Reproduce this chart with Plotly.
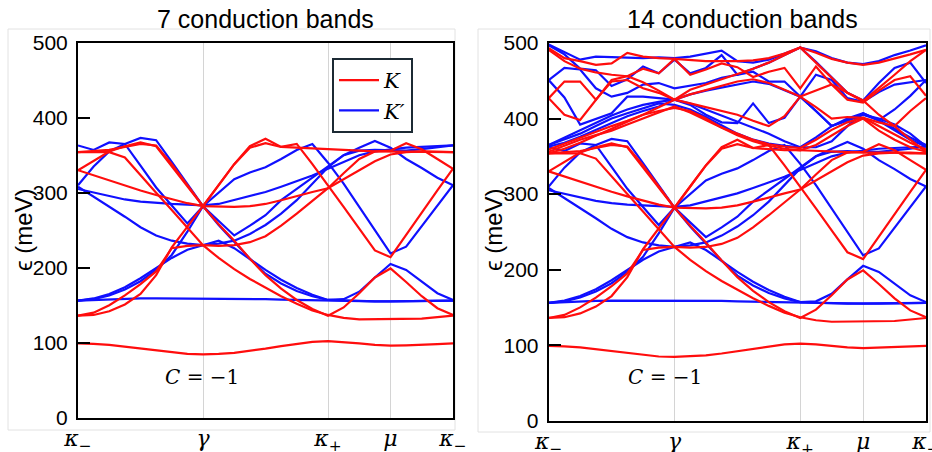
import plotly.graph_objects as go

W, H = 932, 452

# path coordinate (kappa- .. gamma .. kappa+ .. mu .. kappa-), 0.25 steps
K_PATH = [0, 0.25, 0.5, 0.75, 1, 1.25, 1.5, 1.75, 2, 2.25, 2.5, 2.75, 3,
          3.25, 3.5, 3.75, 4, 4.25, 4.5, 4.75, 5, 5.25, 5.5, 5.75, 6]
TICK_POS = [0, 2, 4, 5, 6]
TICK_TEXT = ['<i>κ</i><sub>−</sub>', '<i>γ</i>', '<i>κ</i><sub>+</sub>', '<i>μ</i>', '<i>κ</i><sub>−</sub>']

# ---- K valley (red), 7 lowest conduction bands (meV)
red_1 = [99, 98.5, 97, 94.5, 92, 89, 86.5, 85, 84.5, 85, 86.5, 89, 92, 95.5, 98.5, 101, 102, 101, 99, 97, 96, 96.5, 97, 98, 99]
red_2 = [136, 140, 150, 163, 178, 195, 226, 229, 230, 229, 230, 234, 242, 256, 272, 289, 306, 326, 345, 355, 356, 366, 358, 345, 332]
red_3 = [136, 137, 142, 151, 165, 190, 227, 254, 282, 310, 338, 362, 372, 361, 365, 338, 310, 281, 252, 223, 214, 244, 273, 303, 332]
red_4 = [330, 342, 355, 362, 367, 362, 335, 308, 282, 258, 236, 212, 190, 172, 157, 145, 136, 147, 166, 187, 199, 181, 162, 146, 137]
red_5 = [354, 354, 354, 347, 323, 300, 277, 253, 230, 213, 198, 185, 173, 162, 152, 143, 137, 133, 131, 131, 131, 131, 132, 134, 136]
red_6 = [330, 323, 316, 310, 303, 297, 291, 286, 282, 281, 281, 282, 285, 290, 296, 301, 306, 318, 330, 342, 351, 354, 355, 355, 354]
red_7 = [354, 355, 357, 361, 365, 363, 338, 310, 282, 310, 338, 360, 366, 361, 360, 358, 358, 357, 356, 355, 355, 355, 355, 354, 354]

# ---- K' valley (blue), 7 lowest conduction bands (meV)
blue_1 = [156, 157, 158, 158.5, 159, 159, 159, 159, 159, 159, 159, 158.5, 158, 157.5, 157, 156.5, 156, 155.5, 155, 155, 155, 155, 155, 155.5, 156]
blue_2 = [156, 159, 165, 174, 186, 199, 213, 224, 230, 236, 226, 211, 197, 184, 173, 164, 157, 158, 168, 187, 205, 197, 181, 166, 157]
blue_3 = [156, 158, 163, 171, 182, 197, 217, 248, 282, 300, 318, 327, 334, 345, 357, 365, 340, 312, 281, 250, 219, 228, 255, 282, 310]
blue_4 = [363, 357, 367, 365, 336, 307, 283, 259, 282, 262, 243, 256, 270, 290, 305, 320, 334, 350, 360, 369, 360, 345, 333, 320, 310]
blue_5 = [310, 335, 355, 365, 373, 370, 341, 311, 282, 257, 234, 212, 192, 179, 169, 162, 157, 156, 155.5, 155, 155, 155, 155, 155.5, 156]
blue_6 = [305, 300, 295, 291, 288, 286, 285, 284, 283, 285, 290, 295, 301, 308, 315, 323, 332, 341, 350, 355, 358, 360, 361, 362, 363]
blue_7 = [308, 295, 282, 268, 254, 243, 236, 232, 230, 232, 236, 245, 257, 272, 290, 312, 334, 350, 356, 357, 356, 356, 358, 360, 363]

# ---- extra bands 8..14 (right panel only)
red_8 = [493, 480, 476, 471, 473, 487, 482, 480, 479, 477, 476, 476, 476, 477, 480, 486, 494, 487, 479, 474, 471, 474, 479, 485, 491]
red_9 = [491, 476, 466, 461, 458, 456, 466, 460, 479, 458, 465, 473, 468, 455, 462, 467, 440, 469, 445, 425, 421, 437, 451, 456, 430]
red_10 = [427, 449, 449, 425, 449, 451, 440, 434, 425, 438, 445, 452, 458, 466, 474, 484, 494, 474, 454, 434, 423, 440, 458, 476, 491]
red_11 = [427, 405, 398, 425, 451, 456, 448, 437, 425, 420, 415, 410, 405, 397, 390, 403, 429, 415, 400, 402, 401, 395, 390, 410, 427]
red_12 = [359, 367, 374, 382, 390, 397, 405, 410, 414, 410, 400, 388, 380, 372, 366, 363, 361, 372, 385, 395, 401, 390, 378, 368, 359]
red_13 = [354, 360, 368, 377, 386, 395, 405, 415, 425, 432, 438, 444, 449, 452, 447, 438, 429, 437, 445, 434, 424, 405, 390, 372, 356]
red_14 = [356, 364, 372, 378, 384, 392, 400, 408, 416, 408, 398, 388, 378, 370, 364, 360, 358, 365, 378, 390, 400, 384, 372, 362, 356]

blue_8 = [498, 488, 478, 482, 481, 480, 480, 481, 480, 482, 486, 490, 476, 474, 478, 486, 494, 489, 480, 474, 472, 476, 484, 490, 497]
blue_9 = [497, 485, 466, 464, 443, 452, 469, 460, 478, 460, 467, 484, 458, 462, 449, 449, 429, 458, 451, 427, 422, 435, 445, 448, 451]
blue_10 = [451, 467, 465, 440, 429, 434, 445, 447, 440, 444, 447, 454, 458, 466, 474, 484, 494, 475, 454, 434, 424, 447, 467, 474, 447]
blue_11 = [451, 428, 392, 400, 407, 429, 429, 427, 425, 418, 405, 395, 394, 420, 394, 401, 429, 410, 390, 398, 405, 398, 412, 430, 451]
blue_12 = [365, 372, 380, 390, 400, 407, 414, 420, 418, 412, 402, 391, 380, 372, 367, 364, 362, 375, 390, 400, 407, 397, 385, 372, 363]
blue_13 = [363, 368, 376, 385, 395, 403, 410, 416, 425, 432, 437, 441, 445, 449, 446, 438, 429, 410, 390, 397, 405, 400, 392, 380, 363]
blue_14 = [365, 375, 385, 395, 404, 412, 418, 422, 425, 420, 412, 404, 396, 389, 380, 370, 362, 362, 370, 390, 407, 398, 386, 375, 365]

RED_LOW = [red_1, red_2, red_3, red_4, red_5, red_6, red_7]
BLUE_LOW = [blue_1, blue_2, blue_3, blue_4, blue_5, blue_6, blue_7]
RED_HIGH = [red_8, red_9, red_10, red_11, red_12, red_13, red_14]
BLUE_HIGH = [blue_8, blue_9, blue_10, blue_11, blue_12, blue_13, blue_14]

RED = '#ff0d0d'
BLUE = '#1010ff'
LW = 2.2

fig = go.Figure()

def add_bands(bands, color, xa, ya, name=None):
    for i, b in enumerate(bands):
        show = name is not None and i == 0
        fig.add_trace(go.Scatter(
            x=K_PATH, y=b, mode='lines', xaxis=xa, yaxis=ya,
            line=dict(color=color, width=LW),
            name=name if show else '', showlegend=show,
            legendrank=1 if color == RED else 2,
            hoverinfo='skip'))

# left panel: 7 bands; right panel: 14 bands (blue drawn first, red on top)
add_bands(BLUE_LOW, BLUE, 'x', 'y', name='<i>K′</i>')
add_bands(RED_LOW, RED, 'x', 'y', name='<i>K</i>')
add_bands(BLUE_LOW + BLUE_HIGH, BLUE, 'x2', 'y2')
add_bands(RED_LOW + RED_HIGH, RED, 'x2', 'y2')

SANS = 'Liberation Sans, Arial, sans-serif'
SERIF = 'DejaVu Serif, serif'

def xax(domain, anchor):
    return dict(domain=domain, range=[0, 6], tickvals=TICK_POS, ticktext=TICK_TEXT,
                ticks='', showgrid=True, gridcolor='#d4d4d4', gridwidth=1,
                showline=True, mirror=True, linecolor='black', linewidth=2,
                zeroline=False, automargin=False, anchor=anchor,
                ticklabeloverflow='allow',
                tickfont=dict(family=SERIF, size=22, color='black'))

def yax(domain, anchor):
    return dict(domain=domain, range=[0, 500], tickvals=[0, 100, 200, 300, 400, 500],
                ticks='inside', ticklen=12, tickwidth=2, tickcolor='black',
                showgrid=False, showline=True, mirror=True, linecolor='black', linewidth=2,
                zeroline=False, anchor=anchor, automargin=False, ticklabelstandoff=4,
                tickfont=dict(family=SANS, size=21, color='black'))

fig.update_layout(
    template='none',
    width=W, height=H, margin=dict(l=0, r=0, t=0, b=0, pad=0, autoexpand=False),
    paper_bgcolor='white', plot_bgcolor='white',
    xaxis=xax([78 / W, 453 / W], 'y'),
    yaxis=yax([1 - 417.7 / H, 1 - 42.7 / H], 'x'),
    xaxis2=xax([548.7 / W, 926 / W], 'y2'),
    yaxis2=yax([1 - 420.7 / H, 1 - 43 / H], 'x2'),
    legend=dict(x=332 / W, y=1 - 58 / H, xanchor='left', yanchor='top',
                bgcolor='white', bordercolor='#1c2a34', borderwidth=2,
                font=dict(family=SERIF, size=21, color='black'),
                itemwidth=40, tracegroupgap=0),
    showlegend=True,
)

shapes = [
    dict(type='rect', xref='paper', yref='paper', x0=8 / W, x1=455 / W,
         y0=1 - 430 / H, y1=1 - 29 / H, line=dict(color='#e2e2e2', width=1), layer='below'),
    dict(type='rect', xref='paper', yref='paper', x0=478 / W, x1=930 / W,
         y0=1 - 432 / H, y1=1 - 29 / H, line=dict(color='#e2e2e2', width=1), layer='below'),
]
fig.update_layout(shapes=shapes)

ann = []
for xc, txt in [(265, '7 conduction bands'), (742, '14 conduction bands')]:
    ann.append(dict(xref='paper', yref='paper', x=xc / W, y=1 - 19 / H, text=txt,
                    showarrow=False, xanchor='center', yanchor='middle',
                    font=dict(family=SANS, size=25, color='black')))
for xc in [23, 493]:
    ann.append(dict(xref='paper', yref='paper', x=xc / W, y=1 - 230 / H, text='ϵ (meV)',
                    showarrow=False, xanchor='center', yanchor='middle', textangle=-90,
                    font=dict(family=SANS, size=24, color='black')))
for xc, yc in [(202, 377), (664.5, 377)]:
    ann.append(dict(xref='paper', yref='paper', x=xc / W, y=1 - yc / H, text='<i>C</i> = −1',
                    showarrow=False, xanchor='center', yanchor='middle',
                    font=dict(family=SERIF, size=20, color='black')))
fig.update_layout(annotations=ann)

fig.write_html('out.html',
               config={'displayModeBar': False, 'staticPlot': True},
               post_script="document.body.style.margin='0';document.body.style.padding='0';"
                           "document.documentElement.style.overflow='hidden';")
